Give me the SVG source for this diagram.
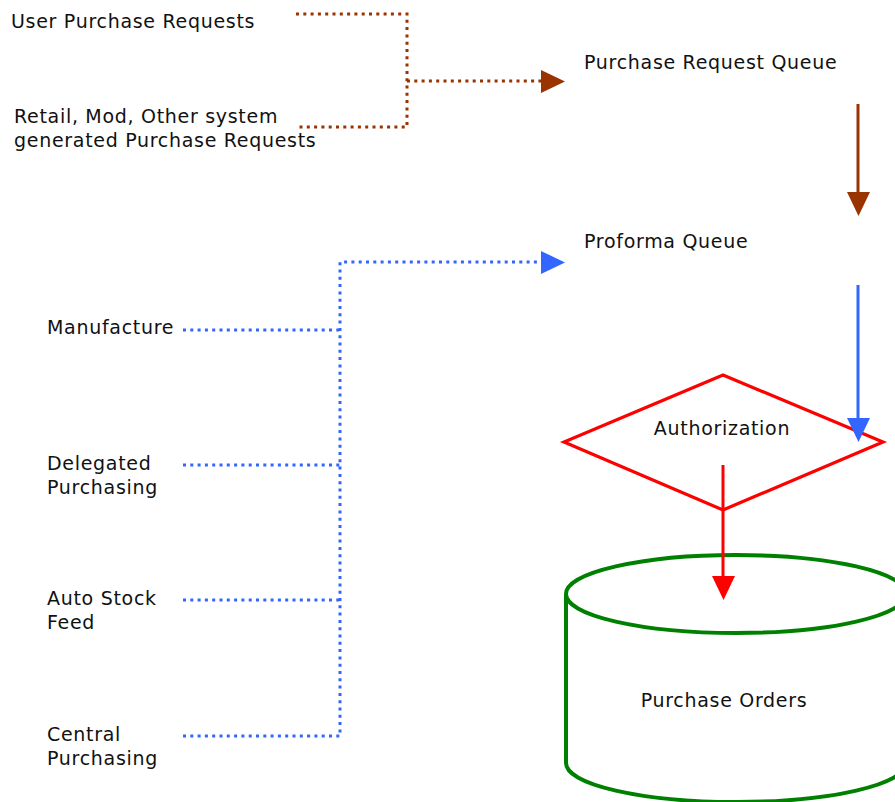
<svg xmlns="http://www.w3.org/2000/svg" width="895" height="802" viewBox="0 0 895 802">
<style>
text{font-family:"DejaVu Sans",Verdana,sans-serif;font-size:19px;letter-spacing:0.7px;fill:#111}
.br{fill:none;stroke:#993300;stroke-width:3;stroke-dasharray:3 4.3}
.bl{fill:none;stroke:#3366ff;stroke-width:3;stroke-dasharray:3 4.3}
</style>
<rect width="895" height="802" fill="#fff"/>
<g id="user"><text x="11" y="28">User Purchase Requests</text></g>
<g id="retail"><text x="14" y="123">Retail, Mod, Other system</text><text x="14" y="147">generated Purchase Requests</text></g>
<g id="prq"><text x="584" y="69">Purchase Request Queue</text></g>
<g id="proforma"><text x="584" y="248">Proforma Queue</text></g>
<g id="manufacture"><text x="47" y="334">Manufacture</text></g>
<g id="delegated"><text x="47" y="470">Delegated</text><text x="47" y="494">Purchasing</text></g>
<g id="autostock"><text x="47" y="605">Auto Stock</text><text x="47" y="629">Feed</text></g>
<g id="central"><text x="47" y="741">Central</text><text x="47" y="765">Purchasing</text></g>
<g id="authorization">
<polygon points="723,375 883,442 723,510 564,442" fill="none" stroke="#ff0000" stroke-width="3.2"/>
<text x="722" y="435" text-anchor="middle">Authorization</text>
</g>
<g id="purchase-orders">
<path d="M566,594 L566,763 A170,39 0 0 0 906,763 L906,594" fill="none" stroke="#008000" stroke-width="4"/>
<ellipse cx="736" cy="594" rx="170" ry="39" fill="none" stroke="#008000" stroke-width="4"/>
<text x="724" y="707" text-anchor="middle">Purchase Orders</text>
</g>
<g id="connectors">
<path class="br" d="M296,14 H407 V127 H296"/>
<path class="br" d="M407,81 H542"/>
<polygon points="541,70 565,81.5 541,93" fill="#993300"/>
<line x1="858" y1="104" x2="858" y2="195" stroke="#993300" stroke-width="3"/>
<polygon points="847,192 870,192 858.5,216" fill="#993300"/>
<path class="bl" d="M183,330 H340 M183,465 H340 M183,600 H340 M183,736 H340 V262 H542"/>
<polygon points="541,251 565,262.5 541,274" fill="#3366ff"/>
<line x1="858" y1="285" x2="858" y2="420" stroke="#3366ff" stroke-width="3"/>
<polygon points="847,418 870,418 858.5,442" fill="#3366ff"/>
<line x1="723" y1="465" x2="723" y2="578" stroke="#ff0000" stroke-width="3"/>
<polygon points="712,576 735,576 723.5,600" fill="#ff0000"/>
</g>
</svg>
